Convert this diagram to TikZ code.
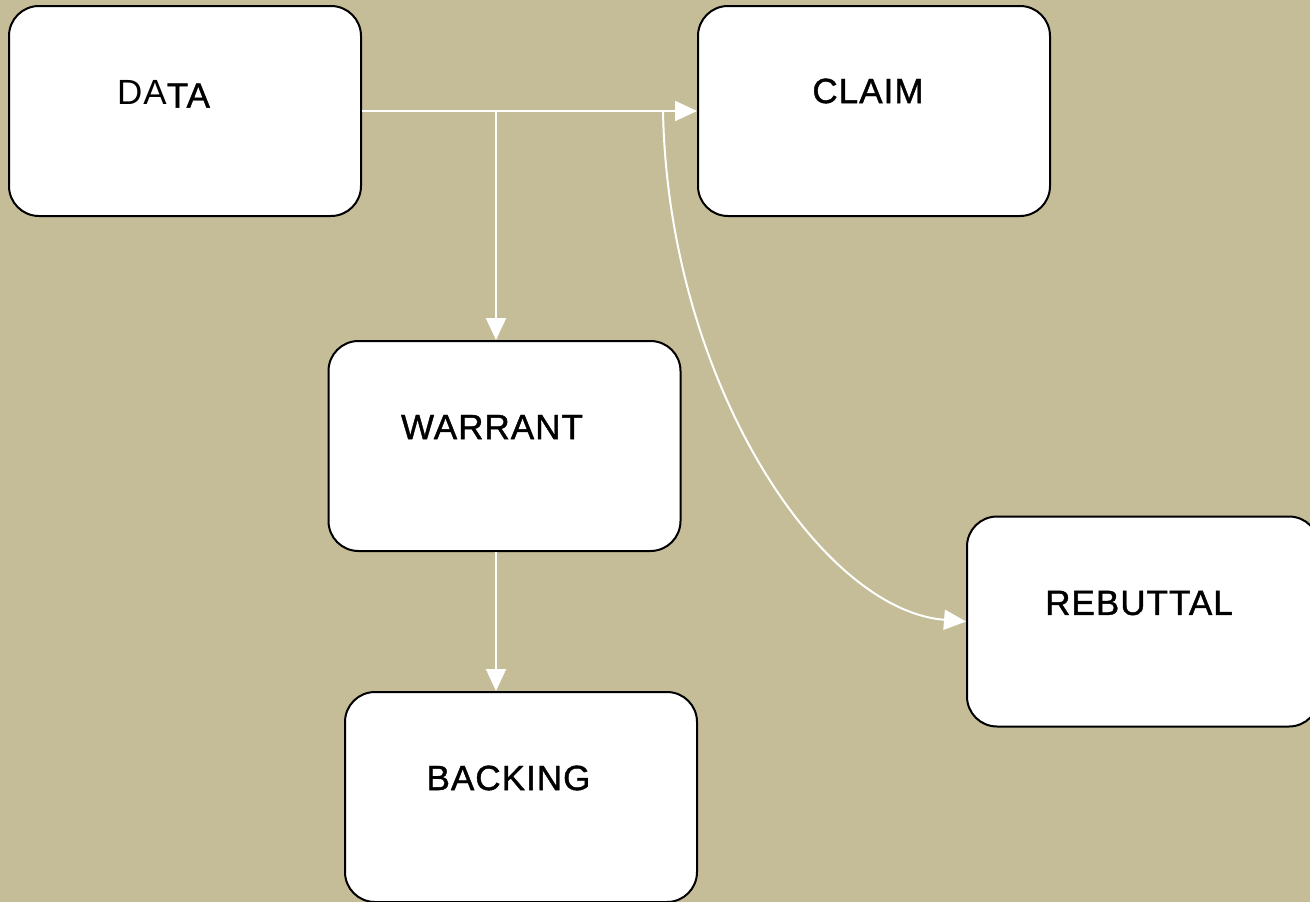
\documentclass[tikz,border=0pt]{standalone}
\usepackage{fontspec}
\setmainfont{Liberation Sans}
\newfontfamily\lblfont[LetterSpace=3,FakeBold=1.2]{Liberation Sans}
\newfontfamily\lblthin[LetterSpace=3]{Liberation Sans}
\usetikzlibrary{arrows.meta}
\definecolor{bgtan}{RGB}{196,189,152}
\begin{document}
\begin{tikzpicture}[x=1pt,y=-1pt,
  box/.style={draw=black,line width=2pt,fill=white,rounded corners=30pt,
    minimum width=352pt,minimum height=210pt,inner sep=0pt},
  lbl/.style={inner sep=0pt,font=\lblfont\fontsize{35pt}{40pt}\selectfont},
  conn/.style={draw=white,line width=2pt,-{Triangle[length=22pt,width=20pt]}}]
\useasboundingbox (0,0) rectangle (1310,902);
\clip (0,0) rectangle (1310,902);
\fill[bgtan] (0,0) rectangle (1310,902);
\node[box] (data) at (185,111) {};
\node[box] (claim) at (874,111) {};
\node[box] (warrant) at (504.5,446) {};
\node[box] (backing) at (521,797) {};
\node[box] (rebuttal) at (1143,621.5) {};
\node[lbl] (dataT) at (163.5,94) {\raisebox{3pt}{\lblthin DA}TA};
\node[lbl] (claimT) at (868,91) {CLAIM};
\node[lbl] (warrantT) at (492,427) {WARRANT};
\node[lbl] (backingT) at (508.5,778) {BACKING};
\node[lbl] (rebuttalT) at (1139,603) {REBUTTAL};
\coordinate (b1) at (496,111);
\coordinate (b2) at (663,111);
\draw[conn] (data.east) -- (claim.west);
\draw[conn] (b1) -- (b1 |- warrant.north);
\draw[conn] (b2) .. controls (668,380) and (820,610) .. (rebuttal.west);
\draw[conn] (warrant.south -| b1) -- (backing.north -| b1);
\end{tikzpicture}
\end{document}
